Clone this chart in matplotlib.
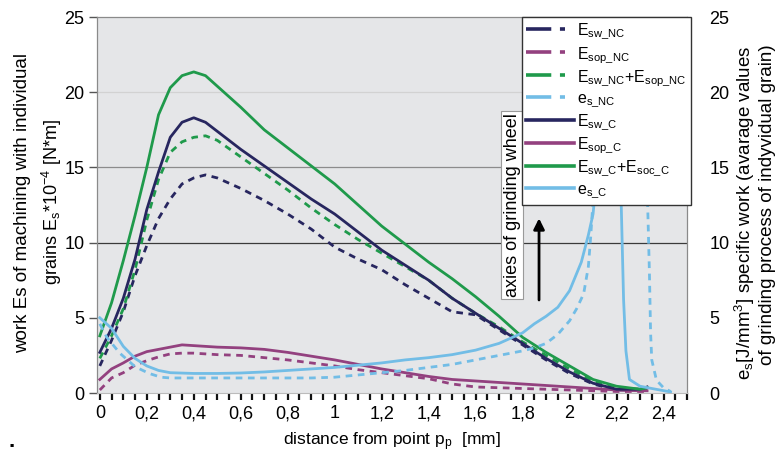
import numpy as np
import matplotlib
matplotlib.use("Agg")
import matplotlib.pyplot as plt
from matplotlib.lines import Line2D

plt.rcParams['font.family'] = ['Liberation Sans', 'DejaVu Sans']
plt.rcParams['mathtext.fontset'] = 'custom'
plt.rcParams['mathtext.rm'] = 'Liberation Sans'
plt.rcParams['mathtext.it'] = 'Liberation Sans'
plt.rcParams['mathtext.default'] = 'regular'

# ---------------- data ----------------
x_c = [0, 0.05, 0.1, 0.15, 0.2, 0.25, 0.3, 0.35, 0.4, 0.45, 0.5, 0.6, 0.7, 0.8, 0.9,
       1.0, 1.1, 1.2, 1.3, 1.4, 1.5, 1.6, 1.7, 1.8, 1.9, 2.0, 2.1, 2.2, 2.3, 2.33]
E_sw_C = [2.7, 4.3, 6.3, 8.9, 12.2, 14.7, 17.0, 18.0, 18.3, 18.0, 17.4, 16.2, 15.1, 14.0, 12.9,
          11.9, 10.7, 9.5, 8.5, 7.5, 6.3, 5.3, 4.3, 3.3, 2.3, 1.4, 0.65, 0.25, 0.25, 0.4]
E_sum_C = [3.8, 6.0, 8.8, 11.8, 15.0, 18.5, 20.3, 21.1, 21.35, 21.1, 20.4, 19.0, 17.5, 16.3, 15.1,
           13.9, 12.5, 11.1, 9.9, 8.7, 7.6, 6.4, 5.1, 3.7, 2.7, 1.8, 0.9, 0.45, 0.25, 0.35]
E_sum_NC = [2.3, 3.8, 5.6, 8.2, 11.5, 14.2, 16.0, 16.7, 17.0, 17.1, 16.8, 15.7, 14.6, 13.5, 12.3,
            11.2, 10.2, 9.3, 8.4, 7.5, 6.3, 5.3, 4.4, 3.4, 2.5, 1.6, 0.8, 0.35, 0.25, 0.3]
E_sw_NC = [1.8, 3.5, 5.4, 7.8, 9.8, 11.6, 12.9, 13.9, 14.3, 14.5, 14.3, 13.6, 12.8, 11.9, 10.9,
           9.7, 8.9, 8.2, 7.2, 6.3, 5.4, 5.2, 4.2, 3.2, 2.2, 1.3, 0.6, 0.2, 0.2, 0.3]
E_sop_C = [0.9, 1.6, 2.0, 2.45, 2.75, 2.9, 3.05, 3.2, 3.15, 3.1, 3.05, 3.0, 2.9, 2.7, 2.45,
           2.2, 1.9, 1.6, 1.35, 1.1, 0.9, 0.8, 0.7, 0.6, 0.5, 0.4, 0.3, 0.2, 0.15, 0.15]
E_sop_NC = [0.2, 1.0, 1.35, 1.85, 2.15, 2.4, 2.6, 2.65, 2.65, 2.6, 2.55, 2.5, 2.35, 2.2, 2.0,
            1.8, 1.55, 1.35, 1.15, 0.95, 0.6, 0.4, 0.35, 0.3, 0.25, 0.2, 0.15, 0.1, 0.1, 0.1]

x_es_C = [0, 0.05, 0.1, 0.15, 0.2, 0.25, 0.3, 0.4, 0.5, 0.6, 0.7, 0.8, 0.9, 1.0, 1.1, 1.2, 1.3,
          1.4, 1.5, 1.6, 1.7, 1.8, 1.85, 1.9, 1.95, 2.0, 2.05, 2.08, 2.1, 2.11, 2.13, 2.16,
          2.19, 2.21, 2.22, 2.23, 2.24, 2.255, 2.3, 2.35, 2.43]
es_C = [5.0, 4.3, 3.1, 2.3, 1.8, 1.5, 1.35, 1.3, 1.3, 1.33, 1.4, 1.5, 1.6, 1.7, 1.85, 2.0, 2.2,
        2.35, 2.55, 2.85, 3.3, 4.0, 4.6, 5.1, 5.7, 6.8, 8.7, 10.5, 11.9, 13.5, 18.0, 22.0,
        20.0, 15.0, 12.5, 6.2, 2.8, 0.9, 0.45, 0.3, 0.07]
x_es_NC = [0.0, 0.03, 0.085, 0.15, 0.21, 0.26, 0.3, 0.5, 0.7, 0.9, 1.0, 1.1, 1.2, 1.3, 1.4, 1.5,
           1.6, 1.7, 1.8, 1.85, 1.9, 1.95, 2.0, 2.03, 2.06, 2.08, 2.09, 2.1, 2.12, 2.2, 2.3,
           2.33, 2.34, 2.345, 2.35, 2.37, 2.4, 2.43]
es_NC = [4.6, 3.7, 2.65, 1.75, 1.3, 1.05, 1.0, 1.0, 1.0, 1.0, 1.05, 1.2, 1.35, 1.5, 1.7, 1.9,
         2.2, 2.5, 2.8, 3.0, 3.3, 3.9, 4.8, 5.6, 6.6, 8.4, 10.4, 12.8, 16.0, 22.0, 20.0,
         14.0, 8.0, 4.0, 2.2, 0.85, 0.35, 0.1]

x_ticks = [0, 0.2, 0.4, 0.6, 0.8, 1.0, 1.2, 1.4, 1.6, 1.8, 2.0, 2.2, 2.4]
x_ticklabels = ['0', '0,2', '0,4', '0,6', '0,8', '1', '1,2', '1,4', '1,6', '1,8', '2', '2,2', '2,4']
y_ticks = [0, 5, 10, 15, 20, 25]

legend_labels = [r'E$_{\rm sw\_NC}$', r'E$_{\rm sop\_NC}$', r'E$_{\rm sw\_NC}$+E$_{\rm sop\_NC}$',
                 r'e$_{\rm s\_NC}$', r'E$_{\rm sw\_C}$', r'E$_{\rm sop\_C}$',
                 r'E$_{\rm sw\_C}$+E$_{\rm soc\_C}$', r'e$_{\rm s\_C}$']

# ---------------- styles ----------------
NAVY = '#27265f'
PURPLE = '#93417f'
GREEN = '#1f9a4b'
BLUE = '#72bde6'
DASH = (0, (2.4, 2.0))

fig = plt.figure(figsize=(7.79, 4.55), dpi=100)
ax = fig.add_axes([97/779, 62/455, 590/779, 376/455])
ax.set_facecolor('#e5e6e8')

for yv, c in [(10, '#3a3a3a'), (15, '#8c8c8c'), (20, '#d2d2d2')]:
    ax.axhline(yv, color=c, lw=0.9, zorder=1)

lw = 2.0
ax.plot(x_c, E_sop_NC, color=PURPLE, lw=lw, ls=DASH, zorder=2)
ax.plot(x_c, E_sw_NC, color=NAVY, lw=lw, ls=DASH, zorder=2)
ax.plot(x_c, E_sum_NC, color=GREEN, lw=lw, ls=DASH, zorder=2)
ax.plot(x_c, E_sop_C, color=PURPLE, lw=lw, zorder=3)
ax.plot(x_c, E_sw_C, color=NAVY, lw=lw, zorder=3)
ax.plot(x_c, E_sum_C, color=GREEN, lw=lw, zorder=3)

ax.set_xlim(-0.012, 2.5)
ax.set_ylim(0, 25)
ax.set_xticks(x_ticks)
ax.set_xticklabels(x_ticklabels, fontsize=13)
ax.set_xticks(np.arange(0, 2.51, 0.05), minor=True)
ax.tick_params(axis='x', which='both', direction='out', length=5, width=1.6, color='#111', pad=4)
ax.set_yticks(y_ticks)
ax.set_yticklabels([str(v) for v in y_ticks], fontsize=13)
ax.tick_params(axis='y', direction='out', length=6, width=1, color='#555', pad=3)
for s in ['left', 'top', 'right']:
    ax.spines[s].set_color('#8a8a8a')
    ax.spines[s].set_linewidth(0.9)
ax.spines['bottom'].set_color('#bbbbbb')
ax.spines['bottom'].set_linewidth(0.8)

ax.set_xlabel(r'distance from point p$_{\rm p}$  [mm]', fontsize=12.5, labelpad=6)

ax2 = ax.twinx()
ax2.set_ylim(0, 25)
ax2.plot(x_es_NC, es_NC, color=BLUE, lw=lw, ls=DASH, zorder=2)
ax2.plot(x_es_C, es_C, color=BLUE, lw=lw, zorder=3)
ax2.set_yticks(y_ticks)
ax2.set_yticklabels([str(v) for v in y_ticks], fontsize=13)
ax2.tick_params(axis='y', length=0, pad=16)
for s in ax2.spines.values():
    s.set_visible(False)

ax2.text(1.755, 12.5, 'axies of grinding wheel', rotation=90, ha='center', va='center',
         fontsize=13, zorder=6,
         bbox=dict(boxstyle='square,pad=0.12', fc='white', ec='#9a9a9a', lw=0.8))
ax2.annotate('', xy=(1.87, 11.8), xytext=(1.87, 6.0),
             arrowprops=dict(arrowstyle='-|>', color='black', lw=2, mutation_scale=16), zorder=6)

handles = []
cols = [NAVY, PURPLE, GREEN, BLUE]
for c in cols:
    handles.append(Line2D([], [], color=c, lw=2.6, dashes=(7.0, 2.4, 1.4, 20)))
for c in cols:
    handles.append(Line2D([], [], color=c, lw=2.6))
leg = ax2.legend(handles, legend_labels, loc='upper right', bbox_to_anchor=(1.007, 1.0),
                 borderaxespad=0, fontsize=11.5, frameon=True, fancybox=False,
                 handlelength=3.0, handletextpad=0.15, labelspacing=0.2, borderpad=0.3)
leg.get_frame().set_edgecolor('#333333')
leg.get_frame().set_linewidth(1.0)
leg.get_frame().set_facecolor('white')
leg.get_frame().set_alpha(1)
leg.set_zorder(10)

fig.text(23/779, 1 - 203/455, 'work Es of machining with individual', rotation=90,
         ha='center', va='center', fontsize=13.5)
fig.text(52/779, 1 - 202/455, r'grains E$_{\rm s}$*10$^{-4}$ [N*m]', rotation=90,
         ha='center', va='center', fontsize=13)
fig.text(745/779, 1 - 213/455, r'e$_{\rm s}$[J/mm$^{3}$] specific work (avarage values',
         rotation=90, ha='center', va='center', fontsize=13.5)
fig.text(768/779, 1 - 205/455, 'of grinding process of indyvidual grain)', rotation=90,
         ha='center', va='center', fontsize=13.5)
fig.text(8/779, 3/455, '.', fontsize=16, fontweight='bold', va='bottom')

fig.savefig('out.png', dpi=100)
